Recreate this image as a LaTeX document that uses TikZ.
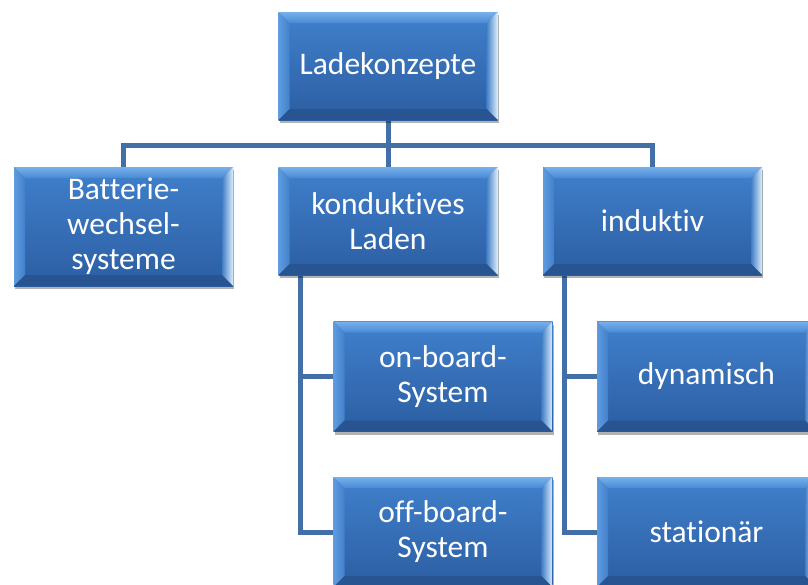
\documentclass[tikz,border=0pt]{standalone}
\usepackage{fontspec}
\setmainfont{Carlito}[Ligatures=CommonOff]
\usetikzlibrary{backgrounds,shadows}
\definecolor{faceTop}{RGB}{64,128,204}
\definecolor{faceBot}{RGB}{44,94,162}
\definecolor{bevTopOut}{RGB}{120,176,236}
\definecolor{bevTopIn}{RGB}{72,138,212}
\definecolor{bevLeftOut}{RGB}{95,155,222}
\definecolor{bevLeftIn}{RGB}{66,128,204}
\definecolor{bevRightOut}{RGB}{220,238,252}
\definecolor{bevRightIn}{RGB}{66,126,198}
\definecolor{bevBot}{RGB}{40,84,146}
\definecolor{conncol}{RGB}{66,112,166}
\tikzset{
  bevbox/.style={rectangle, minimum width=219pt, minimum height=108pt, inner sep=0pt,
    text=white, align=center, font=\fontsize{31.5}{35}\selectfont,
    drop shadow={shadow xshift=1pt, shadow yshift=-3pt, opacity=0.3, fill=black},
    path picture={
      \coordinate (pSW) at (path picture bounding box.south west);
      \coordinate (pNE) at (path picture bounding box.north east);
      \coordinate (pNW) at (path picture bounding box.north west);
      \coordinate (pSE) at (path picture bounding box.south east);
      \shade[top color=faceTop, bottom color=faceBot] (pSW) rectangle (pNE);
      \shade[top color=bevTopOut, bottom color=bevTopIn] (pNW) -- (pNE) -- ([shift={(-11pt,-11pt)}]pNE) -- ([shift={(11pt,-11pt)}]pNW) -- cycle;
      \shade[left color=bevLeftOut, right color=bevLeftIn] (pNW) -- ([shift={(11pt,-11pt)}]pNW) -- ([shift={(11pt,11pt)}]pSW) -- (pSW) -- cycle;
      \shade[left color=bevRightIn, right color=bevRightOut] (pNE) -- (pSE) -- ([shift={(-11pt,11pt)}]pSE) -- ([shift={(-11pt,-11pt)}]pNE) -- cycle;
      \fill[bevBot] (pSW) -- (pSE) -- ([shift={(-11pt,11pt)}]pSE) -- ([shift={(11pt,11pt)}]pSW) -- cycle;
    }},
  conn/.style={draw=conncol, line width=5pt}
}
\begin{document}
\begin{tikzpicture}[x=1pt,y=-1pt]
\useasboundingbox (0,0) rectangle (808,584);
\node[bevbox] (lade) at (388,66) {Ladekonzepte};
\node[bevbox, minimum height=119pt] (batt) at (123.5,226.5) {Batterie-\\wechsel-\\systeme};
\node[bevbox] (kond) at (388,221) {konduktives\\Laden};
\node[bevbox] (ind) at (652.5,221) {induktiv};
\node[bevbox, minimum height=110pt] (onb) at (443,376.5) {on-board-\\System};
\node[bevbox, minimum height=110pt] (offb) at (443,532) {off-board-\\System};
\node[bevbox, minimum height=110pt] (dyn) at (706.5,376.5) {dynamisch};
\node[bevbox, minimum height=110pt] (stat) at (706.5,532) {stationär};
\coordinate (bus) at (0,145);
\coordinate (kdrop) at ([xshift=22pt]kond.south west);
\coordinate (idrop) at ([xshift=22pt]ind.south west);
\begin{scope}[on background layer]
\fill[white] (0,0) rectangle (808,584);
\draw[conn] (lade.south) -- (lade.south |- bus) -| (batt.north);
\draw[conn] (lade.south) -- (lade.south |- bus) -| (ind.north);
\draw[conn] (lade.south |- bus) -- (kond.north);
\draw[conn] (kdrop) |- (onb.west);
\draw[conn] (kdrop) |- (offb.west);
\draw[conn] (idrop) |- (dyn.west);
\draw[conn] (idrop) |- (stat.west);
\end{scope}
\end{tikzpicture}
\end{document}
